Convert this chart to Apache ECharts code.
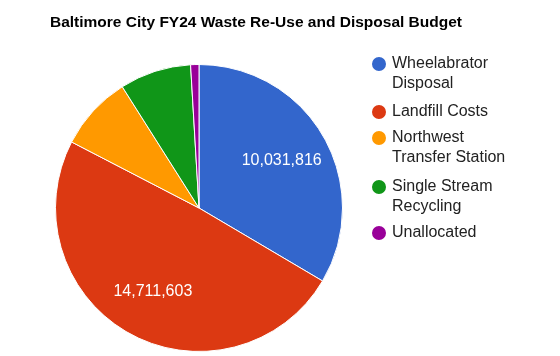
<!DOCTYPE html>
<html><head><meta charset="utf-8">
<script src="https://cdn.jsdelivr.net/npm/echarts@6/dist/echarts.min.js"></script>
<style>html,body{margin:0;padding:0;background:#fff}#c{width:560px;height:356px}</style>
</head><body><div id="c"></div>
<script>
const categories = ['Wheelabrator Disposal', 'Landfill Costs', 'Northwest Transfer Station', 'Single Stream Recycling', 'Unallocated'];
const legendLabels = ['Wheelabrator\nDisposal', 'Landfill Costs', 'Northwest\nTransfer Station', 'Single Stream\nRecycling', 'Unallocated'];
const values = [10031816, 14711603, 2520000, 2410000, 280000];
const showValueLabel = [true, true, false, false, false];
const colors = ['#3366cc', '#dc3912', '#ff9900', '#109618', '#990099'];
const legendTops = [34, 102, 108, 157, 223];

const FONT = "'Liberation Sans', Arial, sans-serif";
const chart = echarts.init(document.getElementById('c'), null, {renderer: 'canvas'});

// each legend entry is its own component so the marker sits on the first text line
const legends = categories.map((name, i) => {
  const twoLine = legendLabels[i].indexOf('\n') >= 0;
  return {
    orient: 'vertical',
    left: 370,
    top: legendTops[i],
    padding: 0,
    icon: 'circle',
    itemWidth: 16,
    itemHeight: 16,
    itemGap: 0,
    textGap: 7,
    selectedMode: false,
    data: [name],
    formatter: () => (twoLine ? '\n' : '') + legendLabels[i],
    textStyle: {fontFamily: FONT, fontSize: 16, color: '#222222', lineHeight: 20}
  };
});

const pieData = categories.map((name, i) => ({
  name, value: values[i], itemStyle: {color: colors[i]}
}));
const labelData = categories.map((name, i) => ({
  name, value: values[i],
  label: {show: showValueLabel[i]}
}));

chart.setOption({
  animation: false,
  backgroundColor: '#ffffff',
  title: {
    text: 'Baltimore City FY24 Waste Re-Use and Disposal Budget',
    left: 45, top: 10,
    textStyle: {fontFamily: FONT, fontSize: 15.5, fontWeight: 'bold', color: '#000000'}
  },
  legend: legends,
  series: [
    {
      type: 'pie',
      center: [199, 208],
      radius: [0, 143.5],
      startAngle: 90,
      clockwise: true,
      silent: true,
      data: pieData,
      itemStyle: {borderColor: '#ffffff', borderWidth: 1},
      label: {show: false},
      labelLine: {show: false}
    },
    {
      type: 'pie',
      center: [199, 208],
      radius: [41, 143.5],
      startAngle: 90,
      clockwise: true,
      silent: true,
      data: labelData,
      itemStyle: {color: 'rgba(0,0,0,0)', borderWidth: 0},
      label: {
        show: true, position: 'inside',
        formatter: p => p.value.toLocaleString('en-US'),
        fontFamily: FONT, fontSize: 16, color: '#ffffff'
      },
      labelLine: {show: false}
    }
  ]
});
</script></body></html>
